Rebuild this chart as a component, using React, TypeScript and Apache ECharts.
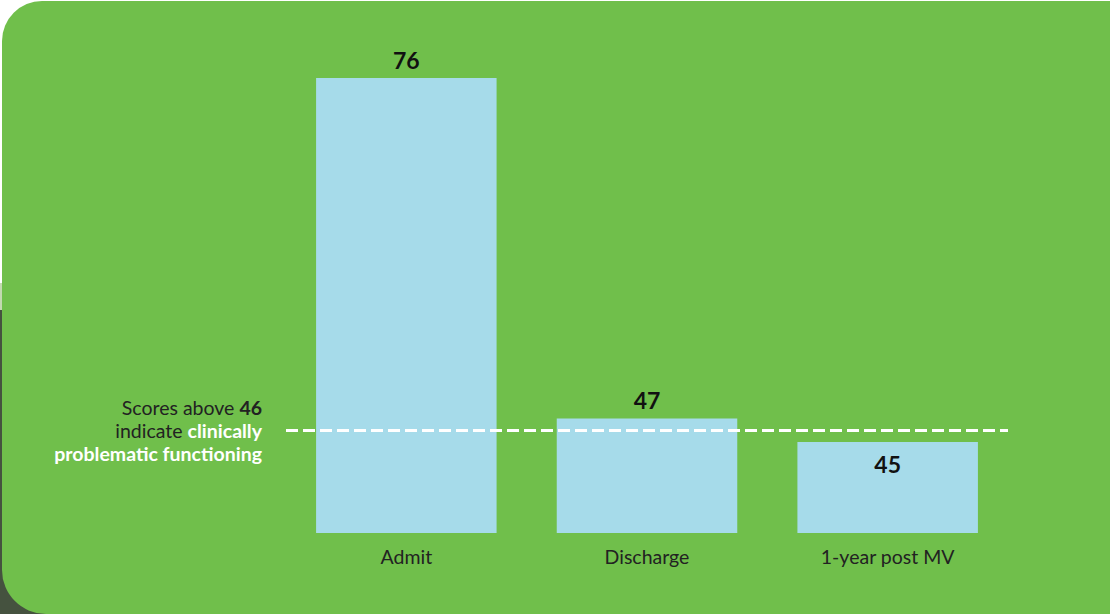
import React, { useEffect, useRef } from "react";
import * as echarts from "echarts";

const categories: string[] = ["Admit", "Discharge", "1-year post MV"];
const scores: number[] = [76, 47, 45];
const threshold = 46;
const thresholdLines: string[] = ["Scores above ", "indicate ", "clinically", "problematic functioning"];

const GREEN = "#70BF4B";
const BAR = "#A6DBEA";
const FONT = "Lato, 'Noto Sans', sans-serif";

export default function App() {
  const ref = useRef<HTMLDivElement>(null);
  useEffect(() => {
    if (!ref.current) return;
    const chart = echarts.init(ref.current, undefined, { renderer: "svg" });
    const data = scores.map((v) => ({
      value: v,
      label: v < threshold
        ? { position: "insideTop", distance: 10 }
        : { position: "top", distance: 7 },
    }));
    chart.setOption({
      animation: false,
      backgroundColor: "#ffffff",
      graphic: [
        { type: "rect", z: -10, shape: { x: 0, y: 283, width: 60, height: 30 }, style: { fill: "#c3d9b0" } },
        { type: "rect", z: -10, shape: { x: 0, y: 310, width: 60, height: 304 }, style: { fill: "#45523f" } },
        { type: "rect", z: -9, shape: { x: 2, y: 1, width: 1140, height: 613, r: [40, 0, 0, 44] }, style: { fill: GREEN } },
      ],
      grid: { left: 286, right: 102, top: 78, bottom: 81 },
      xAxis: {
        type: "category",
        data: categories,
        axisLine: { show: false },
        axisTick: { show: false },
        axisLabel: { color: "#222", fontFamily: FONT, fontSize: 19.5, margin: 13 },
      },
      yAxis: { type: "value", min: 37.25, max: 76, show: false, splitLine: { show: false } },
      series: [
        {
          type: "bar",
          data,
          barCategoryGap: "25%",
          itemStyle: { color: BAR },
          label: { show: true, color: "#111", fontFamily: FONT, fontWeight: "bold", fontSize: 23 },
          markLine: {
            silent: true,
            symbol: "none",
            lineStyle: { color: "#ffffff", width: 3, type: [12, 5], opacity: 1 },
            label: {
              show: true,
              position: "start",
              distance: 24,
              formatter: () =>
                `{n|${thresholdLines[0]}}{b|${threshold}}\n{n|${thresholdLines[1]}}{w|${thresholdLines[2]}}\n{w|${thresholdLines[3]}}`,
              align: "right",
              lineHeight: 23,
              rich: {
                n: { color: "#222", fontFamily: FONT, fontSize: 19.5, lineHeight: 23 },
                b: { color: "#222", fontFamily: FONT, fontSize: 19.5, fontWeight: "bold", lineHeight: 23 },
                w: { color: "#ffffff", fontFamily: FONT, fontSize: 19.5, fontWeight: "bold", lineHeight: 23 },
              },
            },
            data: [{ yAxis: threshold }],
          },
        },
      ],
    });
    return () => chart.dispose();
  }, []);
  return (
    <div
      ref={ref}
      style={{ position: "fixed", left: 0, top: 0, width: 1110, height: 614 }}
    />
  );
}
